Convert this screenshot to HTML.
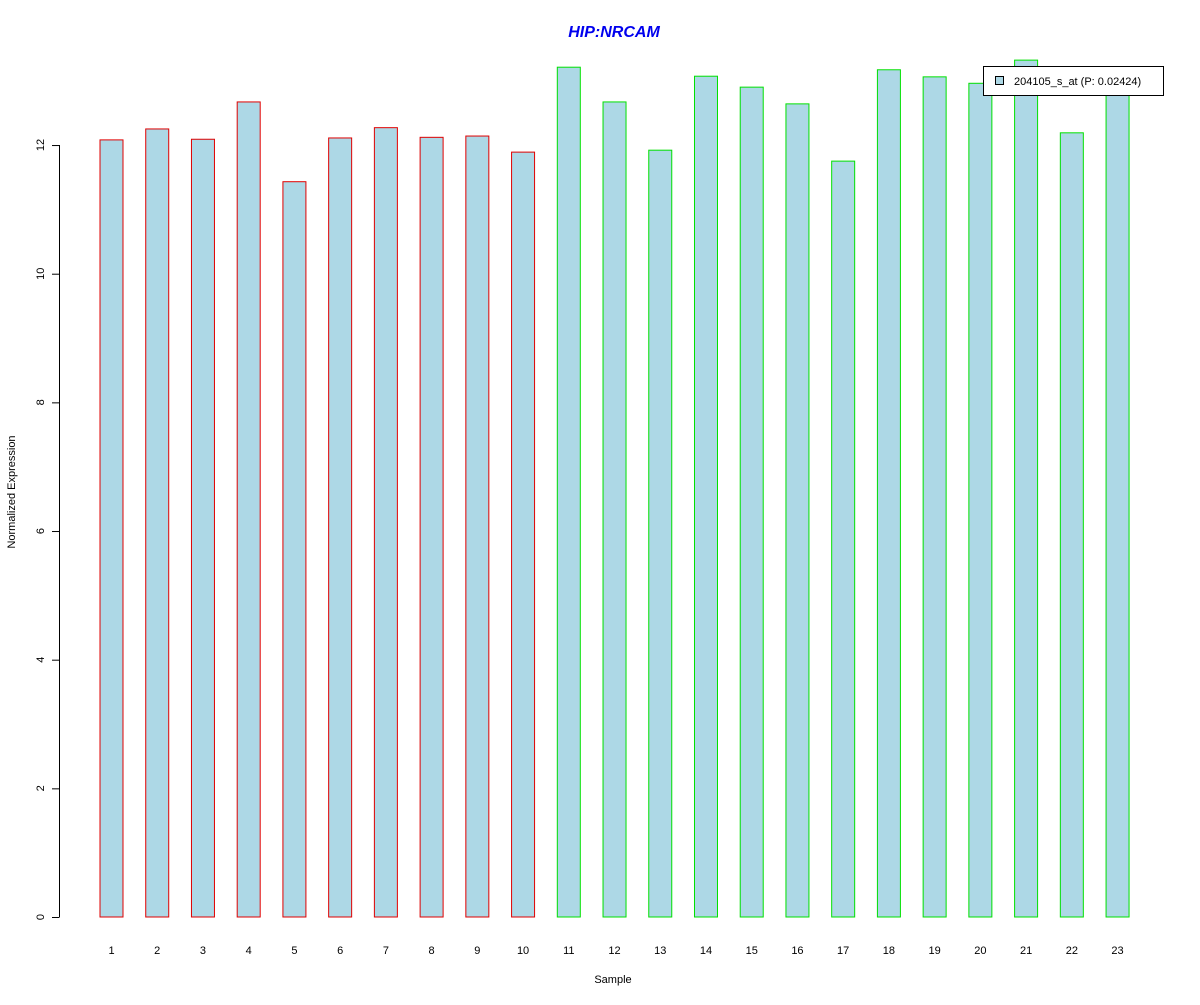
<!DOCTYPE html>
<html><head><meta charset="utf-8"><style>body{margin:0;background:#fff}svg text{font-family:"Liberation Sans",Arial,sans-serif}</style></head>
<body>
<svg id="chart" width="1200" height="1000" viewBox="0 0 1200 1000" xmlns="http://www.w3.org/2000/svg">
<rect width="1200" height="1000" fill="#fff"/>
<text x="614" y="37" text-anchor="middle" font-size="16" font-weight="bold" font-style="italic" fill="#0000ee">HIP:NRCAM</text>
<text x="613" y="983" text-anchor="middle" font-size="11">Sample</text>
<text transform="translate(15,492) rotate(-90)" text-anchor="middle" font-size="11">Normalized Expression</text>
<g id="bars"></g>
<g id="yaxis"></g>
<g id="xlabels"></g>
<g>
<rect x="983.5" y="66.5" width="180" height="29" fill="#fff" stroke="#000"/>
<rect x="995.5" y="76.5" width="8" height="8" fill="#add8e6" stroke="#000"/>
<text x="1014" y="85" font-size="11">204105_s_at (P: 0.02424)</text>
</g>
</svg>
<script>
const categories=["1","2","3","4","5","6","7","8","9","10","11","12","13","14","15","16","17","18","19","20","21","22","23"];
const values=[12.08,12.25,12.09,12.67,11.43,12.11,12.27,12.12,12.14,11.89,13.21,12.67,11.92,13.07,12.90,12.64,11.75,13.17,13.06,12.96,13.32,12.19,12.9];
const groups=["r","r","r","r","r","r","r","r","r","r","g","g","g","g","g","g","g","g","g","g","g","g","g"];
const yTicks=[0,2,4,6,8,10,12];
const NS="http://www.w3.org/2000/svg";
const y=v=>917-v*64.33;
const x=i=>111.5+i*45.73;
const bars=document.getElementById('bars');
values.forEach((v,i)=>{
 const r=document.createElementNS(NS,'rect');
 
 
 r.setAttribute('x',x(i)-11.5);r.setAttribute('y',y(v));
 r.setAttribute('width',23);r.setAttribute('height',917-y(v));
 r.setAttribute('fill','#add8e6');r.setAttribute('stroke',groups[i]=='r'?'#e00000':'#00e000');
 bars.appendChild(r);
 const t=document.createElementNS(NS,'text');
 
 
 t.setAttribute('x',x(i));t.setAttribute('y',954);t.setAttribute('text-anchor','middle');t.setAttribute('font-size','11');
 t.textContent=categories[i];
 document.getElementById('xlabels').appendChild(t);
});
const ya=document.getElementById('yaxis');
const ax=document.createElementNS(NS,'line');


ax.setAttribute('x1',59.5);ax.setAttribute('x2',59.5);ax.setAttribute('y1',y(0));ax.setAttribute('y2',y(12));ax.setAttribute('stroke','#000');
ya.appendChild(ax);
yTicks.forEach(v=>{
 const l=document.createElementNS(NS,'line');
 
 
 l.setAttribute('x1',52);l.setAttribute('x2',59.5);l.setAttribute('y1',y(v)+.5);l.setAttribute('y2',y(v)+.5);l.setAttribute('stroke','#000');
 ya.appendChild(l);
 const t=document.createElementNS(NS,'text');
 
 
 t.setAttribute('transform',`translate(44,${y(v)}) rotate(-90)`);t.setAttribute('text-anchor','middle');t.setAttribute('font-size','11');
 t.textContent=v;
 ya.appendChild(t);
});
</script>
</body></html>
